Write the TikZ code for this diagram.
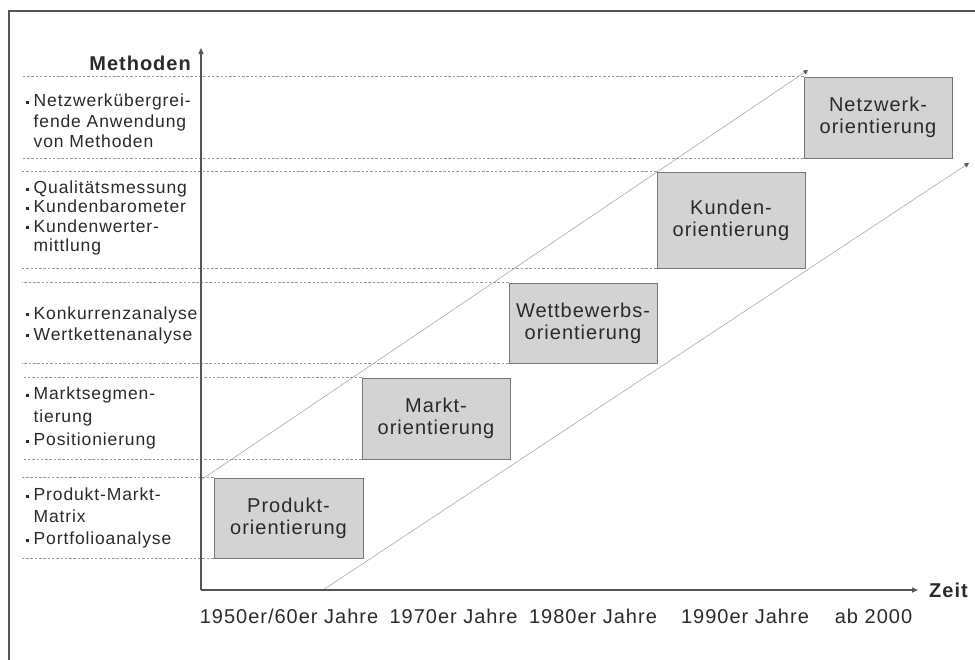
\documentclass[tikz,border=0pt]{standalone}
\usepackage{fontspec}
\setmainfont{Liberation Sans}[LetterSpace=5]
\usetikzlibrary{arrows.meta}
\definecolor{txt}{HTML}{2A2A2A}
\definecolor{boxfill}{HTML}{D3D3D3}
\definecolor{boxline}{HTML}{777777}
\definecolor{dashc}{HTML}{9A9A9A}
\definecolor{diagc}{HTML}{A8A8A8}
\definecolor{axisc}{HTML}{555555}
\newcommand\bul{\makebox[7.5pt][l]{\rule[3pt]{3pt}{3pt}}}
\newcommand\ind{\hspace*{7.5pt}}
\tikzset{
  every node/.style={inner sep=0pt, text=txt},
  frameline/.style={draw=axisc, line width=1.3pt},
  axisline/.style={draw=axisc, line width=1.4pt, -{Triangle[length=6pt,width=5pt]}},
  diagline/.style={draw=diagc, line width=0.6pt, -{Triangle[length=4.5pt,width=4.5pt,color=axisc]}},
  dashline/.style={draw=dashc, line width=0.8pt, dash pattern=on 2.5pt off 1.8pt},
  orbox/.style n args={2}{draw=boxline, fill=boxfill, line width=0.9pt, align=center,
    font=\fontsize{20}{22}\selectfont, minimum width=#1pt, minimum height=#2pt},
  methlist/.style={anchor=west, align=left, font=\fontsize{17.5}{#1}\selectfont},
  yearlab/.style={font=\fontsize{20}{22}\selectfont},
  axlabel/.style={font=\fontsize{20}{22}\selectfont\bfseries}
}
\begin{document}
\begin{tikzpicture}[x=1pt,y=-1pt]
\useasboundingbox (0,0) rectangle (975,659);
% frame
\coordinate (fbl) at (9,665);
\coordinate (ftl) at (9,11);
\coordinate (ftr) at (980,11);
\draw[frameline] (fbl) -- (ftl) -- (ftr);
% key coordinates
\coordinate (O) at (201,590);
\coordinate (ytop) at (201,48);
\coordinate (xend) at (918,590);
\coordinate (dl) at (22,0);
\coordinate (u0) at (201,480);
\coordinate (u1) at (808,70);
\coordinate (l0) at (323,590);
\coordinate (l1) at (969,163);
% boxes
\node[orbox={149}{80}] (prod) at (288.5,518) {Produkt-\\orientierung};
\node[orbox={148}{81}] (markt) at (436,418.5) {Markt-\\orientierung};
\node[orbox={148}{80}] (wett) at (583,323) {Wettbewerbs-\\orientierung};
\node[orbox={148}{96}] (kund) at (731,220) {Kunden-\\orientierung};
\node[orbox={148}{81}] (netz) at (878,117.5) {Netzwerk-\\orientierung};
% dashed guide lines
\foreach \b in {prod,markt,wett,kund,netz}{
  \draw[dashline] (\b.north west) -- (\b.north west -| dl);
  \draw[dashline] (\b.south west) -- (\b.south west -| dl);
}
% diagonals
\draw[diagline] (u0) -- (u1);
\draw[diagline] (l0) -- (l1);
% axes
\draw[axisline] (O) -- (ytop);
\draw[axisline] (O) -- (xend);
\node[axlabel, anchor=east] (meth) at (191,63) {Methoden};
\node[axlabel, anchor=west] (zeit) at (929,590) {Zeit};
% method lists
\node[methlist=20.5] (m5) at (26,121) {\bul Netzwerkübergrei-\\\ind fende Anwendung\\\ind von Methoden};
\node[methlist=19.3] (m4) at (26,218) {\bul Qualitätsmessung\\\bul Kundenbarometer\\\bul Kundenwerter-\\\ind mittlung};
\node[methlist=21] (m3) at (26,325) {\bul Konkurrenzanalyse\\\bul Wertkettenanalyse};
\node[methlist=23] (m2) at (26,418) {\bul Marktsegmen-\\\ind tierung\\\bul Positionierung};
\node[methlist=22] (m1) at (26,518) {\bul Produkt-Markt-\\\ind Matrix\\\bul Portfolioanalyse};
% year labels
\node[yearlab] (y1) at (289,616) {1950er/60er Jahre};
\node[yearlab] (y2) at (453.5,616) {1970er Jahre};
\node[yearlab] (y3) at (593,616) {1980er Jahre};
\node[yearlab] (y4) at (745,616) {1990er Jahre};
\node[yearlab] (y5) at (873.5,616) {ab 2000};
\end{tikzpicture}
\end{document}
